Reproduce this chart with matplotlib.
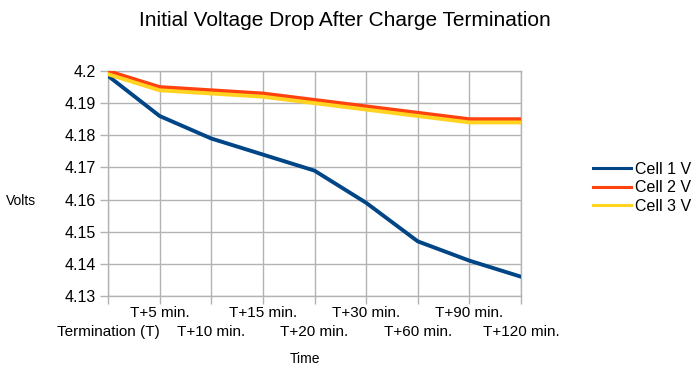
import matplotlib
matplotlib.use("Agg")
import matplotlib.pyplot as plt
from matplotlib.ticker import FixedLocator, FuncFormatter

plt.rcParams['font.family'] = ['Liberation Sans', 'DejaVu Sans']

categories = ["Termination (T)", "T+5 min.", "T+10 min.", "T+15 min.", "T+20 min.",
              "T+30 min.", "T+60 min.", "T+90 min.", "T+120 min."]
cell1 = [4.1985, 4.186, 4.179, 4.174, 4.169, 4.159, 4.147, 4.141, 4.136]
cell2 = [4.200, 4.195, 4.194, 4.193, 4.191, 4.189, 4.187, 4.185, 4.185]
cell3 = [4.199, 4.194, 4.193, 4.192, 4.190, 4.188, 4.186, 4.184, 4.184]
yticks = [4.13, 4.14, 4.15, 4.16, 4.17, 4.18, 4.19, 4.2]

fig = plt.figure(figsize=(6.99, 3.75), dpi=100)
ax = fig.add_axes([108/699, 1-296/375, (521-108)/699, (296-71)/375])

x = list(range(len(categories)))
grid_c = "#b3b3b3"
ax.plot(x, cell1, color="#004586", lw=2.8, label="Cell 1 V", solid_joinstyle="round", zorder=3)
ax.plot(x, cell2, color="#ff420e", lw=2.8, label="Cell 2 V", solid_joinstyle="round", zorder=3)
ax.plot(x, cell3, color="#ffd320", lw=2.8, label="Cell 3 V", solid_joinstyle="round", zorder=4)

ax.set_xlim(0, len(categories)-1)
ax.set_ylim(4.13, 4.2)
ax.yaxis.set_major_locator(FixedLocator(yticks))
ax.yaxis.set_major_formatter(FuncFormatter(lambda v, p: f"{v:g}"))
even = [i for i in x if i % 2 == 0]
odd = [i for i in x if i % 2 == 1]
ax.set_xticks(even, [categories[i] for i in even])
ax.set_xticks(odd, [categories[i] for i in odd], minor=True)
ax.grid(True, which="both", color=grid_c, lw=1)
ax.set_axisbelow(True)
for s in ax.spines.values():
    s.set_color(grid_c)
    s.set_linewidth(1)
ax.tick_params(axis='both', which="both", colors=grid_c, labelcolor="black", labelsize=11, length=5.5, width=1)
ax.tick_params(axis='x', which="minor", pad=1.5)
ax.tick_params(axis='x', which="major", pad=15.5)
ax.tick_params(axis='y', pad=3, labelsize=11.5)

fig.text(345/699, 1-20/375, "Initial Voltage Drop After Charge Termination", ha="center", va="center", fontsize=15)
fig.text(21/699, 1-201/375, "Volts", ha="center", va="center", fontsize=10)
fig.text(305/699, 1-359/375, "Time", ha="center", va="center", fontsize=10)

leg = fig.legend(loc="center left", bbox_to_anchor=(593/699, 1-188/375), frameon=False,
                 fontsize=11.5, handlelength=2.4, handletextpad=0.25, labelspacing=0.22,
                 borderpad=0, borderaxespad=0)
for h in leg.get_lines():
    h.set_linewidth(2.2)

fig.savefig("out.png", dpi=100)
